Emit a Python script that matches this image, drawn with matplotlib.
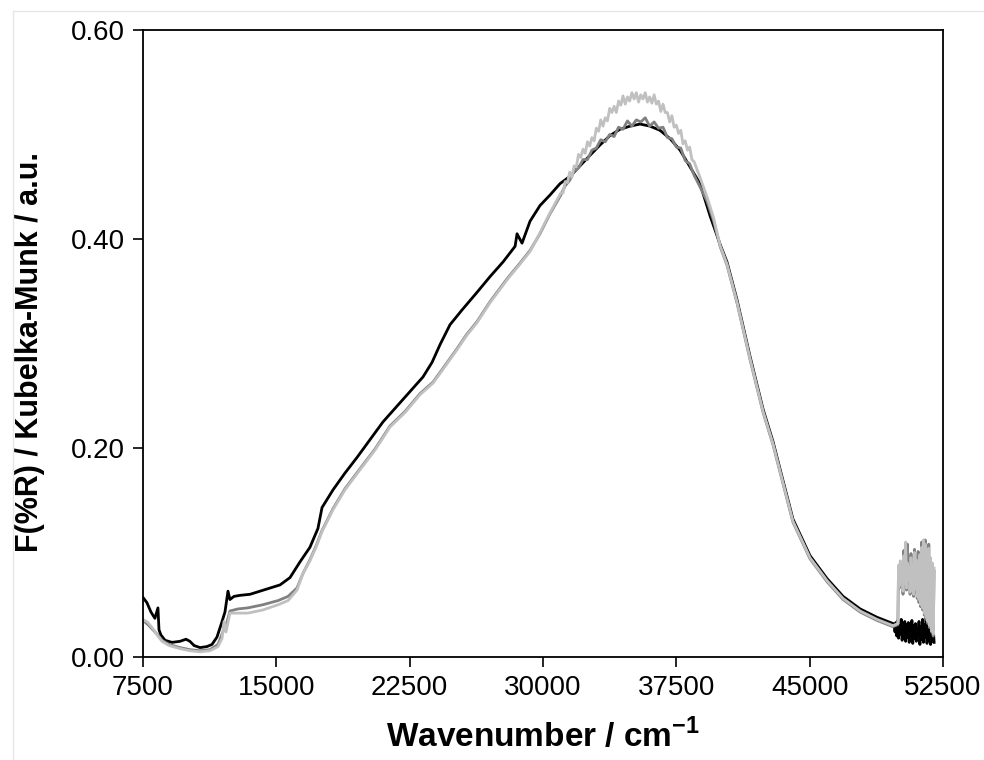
import numpy as np
import matplotlib.pyplot as plt
from matplotlib.lines import Line2D

plt.rcParams['font.family'] = ['Liberation Sans', 'DejaVu Sans']
plt.rcParams['mathtext.fontset'] = 'custom'
plt.rcParams['mathtext.rm'] = 'Liberation Sans'
plt.rcParams['mathtext.bf'] = 'Liberation Sans:bold'

# espectros Kubelka-Munk
wn_preto = [7500, 7720, 7950, 8170, 8290, 8340, 8400, 8510, 8740, 9130, 9580, 9920,
            10140, 10370, 10710, 11100, 11380, 11660, 11890, 12110, 12280, 12390,
            12620, 12960, 13520, 14080, 14640, 15210, 15770, 16330, 16890, 17340,
            17570, 18190, 18860, 19540, 20270, 21000, 21680, 22520, 23250, 23760,
            24210, 24770, 25440, 26290, 27020, 27750, 28430, 28540, 28820, 29270,
            29830, 30390, 30960, 31520, 32080, 32640, 33210, 33770, 34330, 34900,
            35460, 36020, 36580, 37150, 37710, 38270, 38830, 39400, 39960, 40350,
            40910, 41640, 42380, 42940, 43330, 44060, 45020, 45980, 46880, 47840,
            48790, 49690]
km_preto = [0.057, 0.052, 0.043, 0.037, 0.044, 0.047, 0.026, 0.021, 0.016, 0.014, 0.015, 0.017,
            0.015, 0.011, 0.009, 0.010, 0.012, 0.019, 0.031, 0.043, 0.063, 0.055,
            0.058, 0.059, 0.060, 0.063, 0.066, 0.069, 0.076, 0.091, 0.105, 0.123,
            0.143, 0.160, 0.176, 0.191, 0.208, 0.225, 0.238, 0.254, 0.268, 0.282,
            0.299, 0.318, 0.332, 0.349, 0.364, 0.378, 0.393, 0.405, 0.396, 0.417,
            0.432, 0.442, 0.453, 0.460, 0.470, 0.480, 0.490, 0.499, 0.505, 0.508,
            0.510, 0.508, 0.504, 0.496, 0.485, 0.469, 0.453, 0.422, 0.395, 0.378,
            0.342, 0.288, 0.237, 0.206, 0.180, 0.132, 0.097, 0.075, 0.058, 0.046,
            0.038, 0.032]
# trecho ruidoso final (preto)
wn_preto_fim = [49750, 49800, 49850, 49900, 49950, 50000, 50050, 50100, 50150, 50200,
                50250, 50300, 50350, 50400, 50450, 50500, 50550, 50600, 50650, 50700,
                50750, 50800, 50850, 50900, 50950, 51000, 51050, 51100, 51150, 51200,
                51250, 51300, 51350, 51400, 51450, 51500, 51550, 51600, 51650, 51700,
                51750, 51800, 51850, 51900, 51950, 52000]
km_preto_fim = [0.031, 0.024, 0.033, 0.020, 0.035, 0.018, 0.030, 0.022, 0.036, 0.016,
                0.029, 0.021, 0.034, 0.015, 0.031, 0.019, 0.033, 0.014, 0.028, 0.020,
                0.035, 0.013, 0.030, 0.018, 0.032, 0.015, 0.027, 0.021, 0.034, 0.012,
                0.029, 0.017, 0.036, 0.014, 0.031, 0.019, 0.038, 0.013, 0.030, 0.016,
                0.040, 0.012, 0.033, 0.015, 0.028, 0.014]

# cinzas: subida
wn_cinza = [7500, 7780, 8060, 8340, 8570, 8960, 9580, 10140, 10710, 11270, 11720, 11950,
            12060, 12170, 12390, 12840, 13400, 14240, 15100, 15660, 16160, 16500, 16890,
            17230, 17570, 18190, 18860, 19700, 20550, 21390, 22240, 23080, 23810, 24490,
            25160, 25720, 26290, 27020, 27980, 28710, 29270, 29830, 30390]
km_claro = [0.036, 0.033, 0.027, 0.020, 0.015, 0.011, 0.008, 0.006, 0.005, 0.006, 0.010, 0.018,
            0.034, 0.024, 0.042, 0.042, 0.042, 0.045, 0.050, 0.054, 0.064, 0.080, 0.092,
            0.105, 0.120, 0.141, 0.160, 0.179, 0.198, 0.220, 0.234, 0.251, 0.262, 0.278,
            0.294, 0.308, 0.320, 0.339, 0.361, 0.376, 0.388, 0.406, 0.425]
km_escuro = [0.035, 0.031, 0.026, 0.021, 0.016, 0.012, 0.009, 0.007, 0.006, 0.007, 0.012, 0.022,
             0.027, 0.030, 0.044, 0.046, 0.047, 0.050, 0.054, 0.058, 0.066, 0.080, 0.093,
             0.106, 0.121, 0.142, 0.161, 0.180, 0.199, 0.221, 0.235, 0.252, 0.263, 0.279,
             0.295, 0.309, 0.321, 0.340, 0.362, 0.377, 0.389, 0.405, 0.424]
# cinza claro: pico (ruidoso)
wn_pico_claro = [31000, 31125, 31250, 31375, 31500, 31625, 31750, 31875, 32000, 32125, 32250,
                 32375, 32500, 32625, 32750, 32875, 33000, 33125, 33250, 33375, 33500, 33625,
                 33750, 33875, 34000, 34125, 34250, 34375, 34500, 34625, 34750, 34875, 35000,
                 35125, 35250, 35375, 35500, 35625, 35750, 35875, 36000, 36125, 36250, 36375,
                 36500, 36625, 36750, 36875, 37000, 37125, 37250, 37375, 37500, 37625, 37750,
                 37875, 38000, 38125, 38250, 38375, 38500]
km_claro_pico = [0.444, 0.444, 0.455, 0.454, 0.464, 0.459, 0.470, 0.469, 0.481, 0.478, 0.486,
                 0.482, 0.493, 0.489, 0.497, 0.494, 0.506, 0.503, 0.514, 0.508, 0.516, 0.513,
                 0.525, 0.521, 0.527, 0.521, 0.532, 0.528, 0.537, 0.529, 0.536, 0.532, 0.540,
                 0.534, 0.540, 0.531, 0.538, 0.534, 0.540, 0.531, 0.536, 0.530, 0.538, 0.529,
                 0.532, 0.522, 0.529, 0.521, 0.521, 0.512, 0.518, 0.507, 0.509, 0.501, 0.504,
                 0.491, 0.494, 0.485, 0.488, 0.476, 0.474]
# cinza escuro: pico (ruidoso)
wn_pico_escuro = [31000, 31250, 31500, 31750, 32000, 32250, 32500, 32750, 33000, 33250, 33500,
                  33750, 34000, 34250, 34500, 34750, 35000, 35250, 35500, 35750, 36000, 36250,
                  36500, 36750, 37000, 37250, 37500, 37750, 38000, 38250, 38500]
km_escuro_pico = [0.442, 0.451, 0.456, 0.465, 0.468, 0.476, 0.476, 0.485, 0.487, 0.495, 0.493,
                  0.500, 0.498, 0.507, 0.505, 0.513, 0.508, 0.514, 0.512, 0.516, 0.508, 0.512,
                  0.506, 0.507, 0.497, 0.496, 0.488, 0.487, 0.475, 0.472, 0.461]
# cinzas: descida
wn_descida = [38830, 39230, 39600, 39960, 40350, 40910, 41640, 42380, 42940, 43330, 44060,
              45020, 45980, 46880, 47840, 48790, 49690, 49960]
km_claro_desc = [0.459, 0.440, 0.420, 0.394, 0.376, 0.340, 0.286, 0.235, 0.204, 0.178, 0.130,
                 0.095, 0.073, 0.056, 0.044, 0.036, 0.030, 0.032]
km_escuro_desc = [0.450, 0.436, 0.417, 0.393, 0.375, 0.339, 0.285, 0.234, 0.203, 0.177, 0.129,
                  0.094, 0.072, 0.055, 0.043, 0.035, 0.029, 0.031]
# cinzas: trecho ruidoso final
wn_cinza_fim = [50000, 50050, 50100, 50150, 50200, 50250, 50300, 50350, 50400, 50450,
                50500, 50550, 50600, 50650, 50700, 50750, 50800, 50850, 50900, 50950,
                51000, 51050, 51100, 51150, 51200, 51250, 51300, 51350, 51400, 51450,
                51500, 51550, 51600, 51650, 51700, 51750, 51800, 51850, 51900, 51950, 52000]
km_claro_fim = [0.088, 0.068, 0.092, 0.072, 0.085, 0.063, 0.097, 0.070, 0.110, 0.066,
                0.090, 0.074, 0.086, 0.062, 0.095, 0.069, 0.088, 0.060, 0.100, 0.065,
                0.093, 0.058, 0.089, 0.055, 0.098, 0.050, 0.105, 0.047, 0.112, 0.042,
                0.108, 0.038, 0.100, 0.034, 0.104, 0.030, 0.095, 0.025, 0.090, 0.022, 0.085]
km_escuro_fim = [0.084, 0.066, 0.090, 0.070, 0.082, 0.060, 0.102, 0.068, 0.094, 0.064,
                 0.108, 0.070, 0.084, 0.060, 0.099, 0.066, 0.086, 0.058, 0.103, 0.062,
                 0.090, 0.056, 0.101, 0.052, 0.094, 0.048, 0.110, 0.045, 0.104, 0.040,
                 0.112, 0.036, 0.098, 0.032, 0.108, 0.028, 0.092, 0.024, 0.088, 0.020, 0.082]

wn_claro = wn_cinza + wn_pico_claro + wn_descida + wn_cinza_fim
claro = km_claro + km_claro_pico + km_claro_desc + km_claro_fim
wn_escuro = wn_cinza + wn_pico_escuro + wn_descida + wn_cinza_fim
escuro = km_escuro + km_escuro_pico + km_escuro_desc + km_escuro_fim

fig = plt.figure(figsize=(9.84, 7.6), dpi=100)
ax = fig.add_axes([143/984, 103/760, 800/984, 627/760])

# moldura clara da figura
fig.add_artist(Line2D([13/984, 13/984], [0, 1 - 11/760], color='#e6e6e6', lw=1, transform=fig.transFigure))
fig.add_artist(Line2D([13/984, 1], [1 - 11/760, 1 - 11/760], color='#e6e6e6', lw=1, transform=fig.transFigure))

lw = 2.0
ax.plot(wn_preto + wn_preto_fim, km_preto + km_preto_fim, color='black', lw=lw)
ax.plot(wn_escuro, escuro, color='#808080', lw=lw)
ax.plot(wn_claro, claro, color='#c0c0c0', lw=lw)

ax.set_xlim(7500, 52500)
ax.set_ylim(0, 0.6)
ax.set_xticks(np.arange(7500, 52501, 7500))
ax.set_yticks([0, 0.2, 0.4, 0.6])
ax.set_yticklabels(['0.00', '0.20', '0.40', '0.60'])
ax.tick_params(direction='out', length=7, width=1.2, labelsize=20, colors='black', pad=6)
for s in ax.spines.values():
    s.set_linewidth(1.3)

ax.set_xlabel(r'Wavenumber / cm$^{\mathbf{-1}}$', fontsize=24, fontweight='bold', labelpad=12)
ax.set_ylabel('F(%R) / Kubelka-Munk / a.u.', fontsize=22, fontweight='bold')
ax.yaxis.set_label_coords(-0.122, 0.486)

fig.savefig('out.png', dpi=100)
